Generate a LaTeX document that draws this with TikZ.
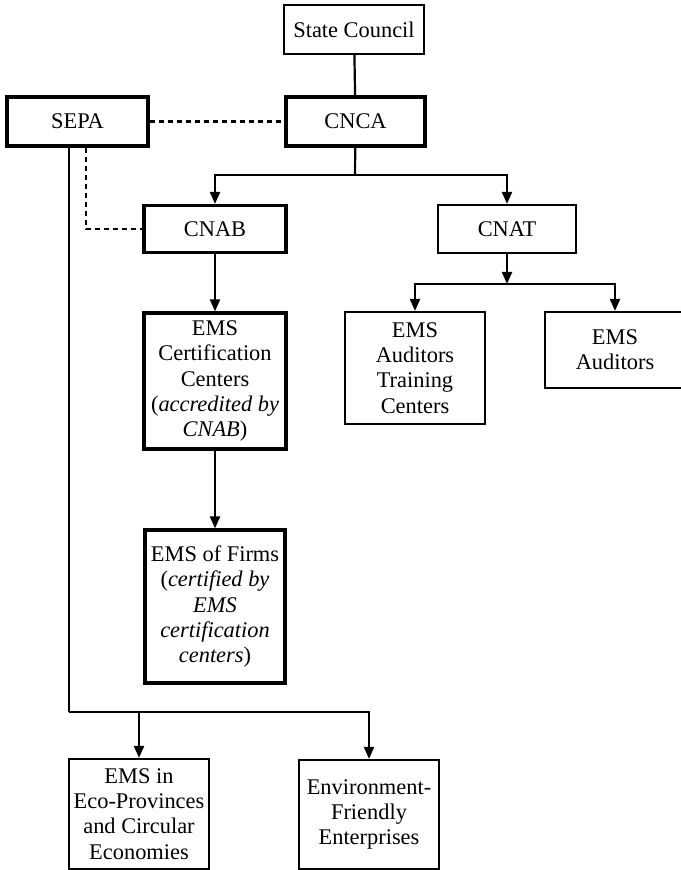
\documentclass[tikz,border=0pt]{standalone}
\usepackage{fontspec}
\setmainfont{Liberation Serif}
\usetikzlibrary{arrows.meta}

\begin{document}
\begin{tikzpicture}[x=0.5pt,y=-0.5pt,line width=1.1pt,
  >={Triangle[length=6pt,width=5pt]},
  every node/.style={font=\fontsize{11.2}{12.6}\selectfont},
  box/.style={draw,align=center,inner sep=1pt,line width=1.1pt},
  heavy box/.style={box,line width=1.6pt},
  dashline/.style={dash pattern=on 2.5pt off 2pt}]
  \useasboundingbox (0,0) rectangle (680,870);

  \node[box,minimum width=70pt,minimum height=24.5pt] (council) at (354,29.5) {State Council};
  \node[heavy box,minimum width=69.5pt,minimum height=24.5pt] (cnca) at (355.5,121.5) {CNCA};
  \node[heavy box,minimum width=70.5pt,minimum height=24.5pt] (sepa) at (77.5,121.5) {SEPA};
  \node[heavy box,minimum width=71pt,minimum height=23.5pt] (cnab) at (215,229) {CNAB};
  \node[box,minimum width=69pt,minimum height=24pt] (cnat) at (507,229) {CNAT};
  \node[box,minimum width=70pt,minimum height=56pt] (training) at (415,368)
    {EMS\\Auditors\\Training\\Centers};
  \node[box,minimum width=70pt,minimum height=38pt] (auditors) at (615,350)
    {EMS\\Auditors};
  \node[heavy box,minimum width=71pt,minimum height=68pt] (certcenters) at (215,381)
    {EMS\\Certification\\Centers\\(\textit{accredited by}\\\textit{CNAB})};
  \node[heavy box,minimum width=70pt,minimum height=76.5pt] (firms) at (215,606.5)
    {EMS of Firms\\(\textit{certified by}\\\textit{EMS}\\\textit{certification}\\\textit{centers})};
  \node[box,minimum width=70pt,minimum height=55pt] (eco) at (139,814)
    {EMS in\\Eco-Provinces\\and Circular\\Economies};
  \node[box,minimum width=70pt,minimum height=54.5pt] (enviro) at (369,814.5)
    {Environment-\\Friendly\\Enterprises};

  \coordinate (hub cnca) at (355,175);
  \coordinate (hub cnat) at (507,284);
  \coordinate (hub sepa) at (69,712);
  \coordinate (sepa dash) at (86,0);

  \draw (council) -- (cnca);
  \draw[dashline] (sepa) -- (cnca);
  \draw (cnca) -- (hub cnca);
  \draw[->] (hub cnca) -| (cnab);
  \draw[->] (hub cnca) -| (cnat);
  \draw[->] (cnat) -- (hub cnat);
  \draw[->] (hub cnat) -| (training);
  \draw[->] (hub cnat) -| (auditors);
  \draw[->] (cnab) -- (certcenters);
  \draw[->] (certcenters) -- (firms);
  \draw[dashline] (sepa.south -| sepa dash) |- (cnab);
  \draw (sepa.south -| hub sepa) -- (hub sepa);
  \draw[->] (hub sepa) -| (enviro);
  \draw[->] (eco.north |- hub sepa) -- (eco);
\end{tikzpicture}
\end{document}
